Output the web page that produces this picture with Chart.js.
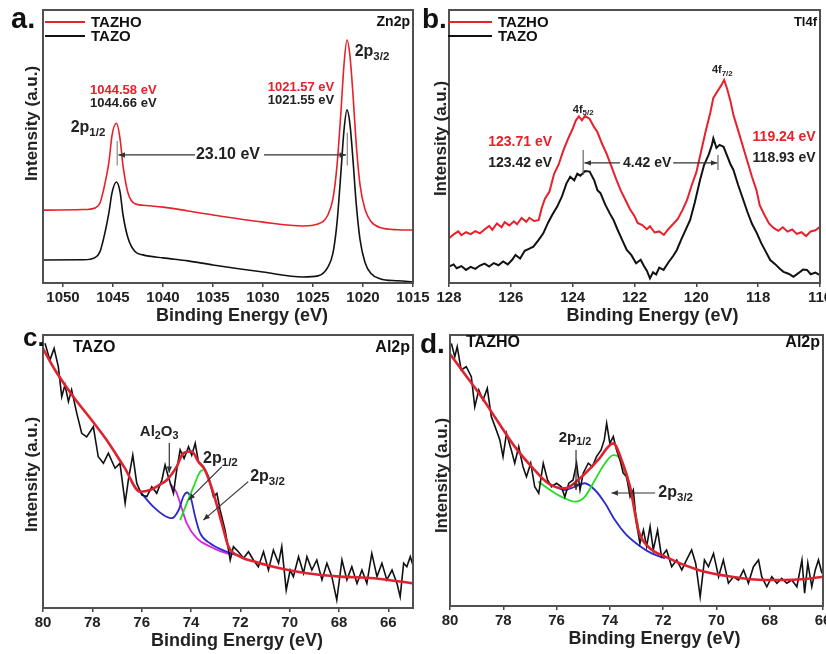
<!DOCTYPE html>
<html>
<head>
<meta charset="utf-8">
<script src="https://cdn.jsdelivr.net/npm/chart.js@4.4.1/dist/chart.umd.min.js"></script>
<style>
  html, body { margin: 0; padding: 0; background: #fff; overflow: hidden; width: 826px; height: 654px; }
  canvas { position: absolute; }
</style>
</head>
<body>
<canvas id="pa" width="440" height="330" style="left:0px;top:0px"></canvas>
<canvas id="pb" width="440" height="330" style="left:400px;top:0px"></canvas>
<canvas id="pc" width="440" height="334" style="left:0px;top:320px"></canvas>
<canvas id="pd" width="440" height="334" style="left:400px;top:320px"></canvas>
<script>
// ---- panel a: Zn2p ----
var aTicks = [1050, 1045, 1040, 1035, 1030, 1025, 1020, 1015];
var aEnergy = [
  1052, 1048, 1046.8, 1046.3, 1045.8, 1045.4, 1045.1, 1044.66, 1044.3, 1044.0,
  1043.5, 1042.8, 1042, 1040, 1037.5, 1035, 1030, 1026, 1024.5, 1023.5,
  1023, 1022.6, 1022.2, 1021.9, 1021.6, 1021.3, 1021.0, 1020.7, 1020.3, 1019.8,
  1019.2, 1018.3, 1016.5, 1015];
var aTazho = [
  26.7, 26.9, 27.5, 29.3, 36.5, 44.5, 54, 58.5, 53, 43,
  33, 29, 28.5, 27.8, 26.4, 24.9, 22.3, 20.9, 21.6, 25,
  31, 43, 63, 80, 89, 83, 69, 52, 36, 27,
  22.5, 20.3, 19.5, 19.4];
var aTazo = [
  8.4, 8.5, 9.3, 11.5, 18.5, 26, 33, 37, 33.5, 25,
  16.5, 11.5, 10.3, 9.2, 8.1, 6.6, 4.0, 2.2, 2.6, 5.9,
  11, 22, 41, 56, 63.4, 58, 45, 30, 16, 7.5,
  3.5, 1.6, 0.8, 0.4];

// ---- panel b: Tl4f ----
var bTicks = [128, 126, 124, 122, 120, 118, 116];
var bTazhoE = [
  128.0, 127.85, 127.7, 127.6, 127.45, 127.3, 127.15, 127.0, 126.85, 126.7,
  126.6, 126.45, 126.3, 126.2, 126.05, 125.9, 125.8, 125.65, 125.5, 125.4,
  125.25, 125.1, 125.0, 124.9, 124.75, 124.6, 124.45, 124.3, 124.15, 124.0,
  123.9, 123.8, 123.7, 123.6, 123.45, 123.3, 123.2, 123.05, 122.9, 122.75,
  122.6, 122.45, 122.3, 122.15, 122.0, 121.9, 121.75, 121.6, 121.5, 121.35,
  121.2, 121.05, 120.9, 120.75, 120.6, 120.45, 120.3, 120.15, 120.0, 119.85,
  119.7, 119.55, 119.45, 119.3, 119.2, 119.1, 119.0, 118.9, 118.8, 118.65,
  118.5, 118.35, 118.2, 118.05, 117.95, 117.8, 117.65, 117.5, 117.35, 117.2,
  117.05, 116.9, 116.75, 116.6, 116.45, 116.3, 116.15, 116.0];
var bTazho = [
  16.4, 17.8, 18.9, 17.5, 18.6, 17.9, 19.0, 18.2, 19.6, 20.9,
  19.5, 21.8, 20.4, 22.3, 21.1, 22.6, 21.5, 23.8, 22.4, 23.9,
  22.7, 23.0, 27.5, 30.8, 33.5, 40.0, 43.5, 48.6, 52.8, 56.5,
  59.5, 61.0, 59.6, 61.2, 60.1, 57.0, 55.3, 51.0, 47.3, 42.8,
  38.2, 34.0, 30.6, 27.1, 24.5, 22.0, 21.2, 19.7, 20.8, 18.5,
  18.9, 17.6, 19.8, 21.6, 23.5, 26.7, 30.4, 35.8, 40.5, 48.0,
  55.5, 62.3, 67.8, 70.5, 72.3, 74.4, 71.0, 66.8, 61.5, 56.0,
  50.3, 44.6, 38.9, 33.8, 28.5, 25.0, 21.8, 20.2, 19.1, 20.4,
  18.8, 19.6, 18.0, 18.6, 17.2, 18.9, 19.3, 20.6];
var bTazoE = [
  128.0, 127.85, 127.75, 127.6, 127.45, 127.3, 127.15, 127.0, 126.85, 126.7,
  126.55, 126.4, 126.25, 126.1, 125.95, 125.85, 125.7, 125.55, 125.4, 125.27,
  125.1, 124.95, 124.8, 124.65, 124.5, 124.35, 124.2, 124.08, 123.95, 123.85,
  123.75, 123.6, 123.45, 123.3, 123.2, 123.1, 122.95, 122.8, 122.68, 122.55,
  122.4, 122.25, 122.1, 121.95, 121.8, 121.7, 121.6, 121.5, 121.4, 121.3,
  121.2, 121.06, 120.9, 120.75, 120.63, 120.5, 120.35, 120.2, 120.05, 119.88,
  119.75, 119.6, 119.5, 119.45, 119.35, 119.25, 119.12, 119.0, 118.9, 118.8,
  118.65, 118.48, 118.35, 118.2, 118.04, 117.9, 117.75, 117.61, 117.45, 117.3,
  117.18, 117.0, 116.86, 116.7, 116.55, 116.42, 116.3, 116.15, 116.0];
var bTazo = [
  6.0, 6.8, 5.4, 6.2, 4.8, 5.9, 5.2, 6.4, 7.1, 6.0,
  7.3, 6.5, 7.9, 6.8, 8.6, 10.3, 9.0, 11.8, 12.6, 13.3,
  15.8, 18.2, 22.0, 25.2, 28.0, 31.6, 36.5, 38.9, 37.6, 40.0,
  39.3, 41.0, 40.8, 37.5, 34.0, 32.9, 28.8, 25.5, 23.1, 19.6,
  15.8, 12.1, 10.2, 7.2, 8.5, 6.3, 4.5, 1.7, 3.9, 3.1,
  5.6, 4.8, 7.6, 9.9, 12.1, 15.6, 19.4, 23.1, 29.5, 37.7,
  43.2, 47.0, 50.4, 53.0, 49.5, 50.6, 49.9, 46.5, 43.6, 41.4,
  36.0, 30.4, 26.1, 21.7, 18.2, 14.6, 11.4, 8.4, 6.9, 5.2,
  4.1, 3.3, 2.3, 3.6, 4.9, 4.8, 3.2, 3.8, 2.9];

// ---- panel c: Al2p, TAZO ----
var cTicks = [80, 78, 76, 74, 72, 70, 68, 66];
var cRawE = [
  79.92, 79.72, 79.55, 79.38, 79.24, 79.11, 78.97, 78.84, 78.63, 78.43,
  78.23, 77.96, 77.76, 77.55, 77.35, 77.08, 76.88, 76.67, 76.54, 76.36,
  76.2, 75.99, 75.79, 75.59, 75.39, 75.18, 75.05, 74.92, 74.71, 74.58,
  74.44, 74.28, 74.1, 73.97, 73.83, 73.7, 73.5, 73.29, 73.09, 72.95,
  72.82, 72.62, 72.41, 72.28, 72.08, 71.87, 71.67, 71.47, 71.27, 71.06,
  70.86, 70.66, 70.45, 70.32, 70.14, 69.98, 69.85, 69.64, 69.44, 69.3,
  69.1, 68.9, 68.69, 68.49, 68.29, 68.09, 67.88, 67.68, 67.48, 67.27,
  67.07, 66.87, 66.67, 66.46, 66.26, 66.06, 65.85, 65.65, 65.52, 65.38,
  65.25, 65.11, 64.98];
var cRaw = [
  97, 90.8, 95.1, 88.4, 77.4, 81.7, 75.6, 79.9, 71.3, 64,
  62.7, 66.4, 55.4, 53, 56.7, 51.2, 53, 38.4, 46.9, 56,
  45.7, 41.4, 40.8, 44.4, 42, 46.9, 52.4, 48.1, 42, 50.5,
  57.9, 54.8, 59.1, 56, 60.3, 53.6, 51.8, 48.1, 40.8, 42,
  35.9, 28.6, 17.6, 22.5, 20.6, 18.2, 20.6, 17.6, 15.1, 20.6,
  13.9, 21.2, 16.4, 22.5, 6.6, 13.9, 11.5, 18.8, 12.7, 18.8,
  13.9, 17.6, 10.3, 16.4, 11.5, 2.9, 17.6, 10.3, 15.1, 9,
  13.9, 9, 20, 11.5, 16.4, 10.3, 13.9, 9, 4.1, 16.4,
  15.1, 18.8, 15];
var cFitE = [80, 79.5, 78.77, 78, 77.42, 76.7, 76.06, 75.66, 75.3, 74.98,
  74.58, 74.31, 73.97, 73.7, 73.43, 73.09, 72.75, 72.48, 72.01, 71.3,
  70.66, 69.3, 67.95, 66.6, 65];
var cFit = [95, 87, 77.4, 68.5, 61.5, 51.5, 42.6, 43.2, 45, 46.9,
  51.8, 56.7, 57.3, 53.6, 50.5, 42, 31, 22.5, 18.8, 16.7,
  15.1, 12.7, 11.5, 10.9, 9];
var cBlueE = [76.06, 75.53, 75.12, 74.78, 74.5, 74.3, 74.15, 74.0, 73.83, 73.63, 73.23, 72.55, 72.2];
var cBlue = [42.6, 37.1, 34.1, 32.9, 35.9, 41, 42.3, 40, 33.4, 27.4, 23.7, 20.6, 19.6];
var cPinkE = [74.85, 74.6, 74.44, 74.17, 73.76, 73.23, 72.55, 72.2];
var cPink = [45.5, 42.5, 38.4, 31, 25.5, 22.5, 20, 19.6];
var cGreenE = [74.44, 74.17, 73.9, 73.63, 73.5];
var cGreen = [32.2, 38.4, 44.4, 49.9, 50.5];

// ---- panel d: Al2p, TAZHO ----
var dTicks = [80, 78, 76, 74, 72, 70, 68, 66];
var dRawE = [
  79.95, 79.82, 79.73, 79.58, 79.39, 79.2, 79.07, 78.92, 78.76, 78.6,
  78.45, 78.26, 78.13, 78.01, 77.88, 77.7, 77.57, 77.42, 77.26, 77.13,
  76.97, 76.82, 76.67, 76.5, 76.34, 76.19, 76, 75.82, 75.69, 75.54,
  75.38, 75.25, 75.12, 75, 74.81, 74.66, 74.5, 74.33, 74.21, 74.12,
  74, 73.87, 73.75, 73.62, 73.5, 73.37, 73.24, 73.12, 73, 72.87,
  72.74, 72.62, 72.49, 72.37, 72.21, 72.06, 71.87, 71.68, 71.49, 71.3,
  71.12, 70.93, 70.78, 70.61, 70.45, 70.3, 70.11, 69.92, 69.74, 69.55,
  69.36, 69.17, 68.98, 68.8, 68.61, 68.42, 68.3, 68.11, 67.92, 67.73,
  67.55, 67.36, 67.17, 66.98, 66.79, 66.69, 66.57, 66.42, 66.29, 66.17,
  66.04];
var dRaw = [
  96.9, 92, 95.7, 87.1, 88.3, 84.6, 73.5, 79.7, 76, 80.3,
  69.9, 64.9, 61.3, 55.1, 63.7, 57.6, 52.7, 58.8, 51.4, 47.7,
  52.7, 44, 41.6, 52.7, 46.5, 44, 45.3, 44, 40.3, 45.3,
  46.5, 52.7, 42.8, 49, 52.7, 51.4, 55.1, 57.6, 61.3, 67.4,
  60, 62.5, 57.6, 53.9, 49, 47.7, 40.3, 42.8, 30.5, 23.1,
  28, 21.9, 29.3, 20.7, 28, 18.2, 20.7, 14.5, 17, 13.3,
  17, 20.7, 15.8, 3.4, 17, 14.5, 19.4, 10.8, 17, 8.4,
  10.8, 9.6, 13.3, 8.4, 14.5, 17, 10.8, 7.1, 10.8, 8.4,
  10.2, 8.4, 9.6, 7.1, 17, 4.7, 15.8, 7.1, 13.3, 17,
  12.1];
var dFitE = [80, 79.4, 78.82, 78.2, 77.57, 76.9, 76.32, 75.69, 75.06, 74.44,
  73.87, 73.56, 73.24, 72.93, 72.56, 71.93, 70.68, 69.42, 68.17, 66.92, 66];
var dFit = [93, 85, 77.2, 68, 58.8, 51, 45.3, 43.4, 47.7, 53.9,
  60, 53.9, 44, 28, 21.9, 18.2, 13.3, 10.8, 9.6, 9.8, 10.8];
var dGreenE = [76.69, 76.06, 75.69, 75.31, 74.94, 74.56, 74.18, 73.87, 73.68, 73.43, 73.18, 72.93];
var dGreen = [45.9, 41.6, 39.7, 38.5, 40.3, 46.5, 52.7, 55.7, 55.1, 49, 40.3, 29.3];
var dBlueE = [76.32, 75.69, 75.31, 74.94, 74.56, 74.18, 73.81, 73.43, 72.93, 72.43, 71.93];
var dBlue = [45.3, 42.8, 44, 45.3, 42.8, 37.9, 31.7, 26.8, 22.5, 19.4, 17.6];

var FONT = '"Liberation Sans", Arial, Helvetica, sans-serif';
var RED = "#e8202a";
var DARK = "#111111";

function pts(xs, ys) {
  return xs.map(function (x, i) { return { x: x, y: ys[i] }; });
}

function sub(main, s) { return [[main, 0], [s, 1]]; }

// text / arrows placed in data units of each panel
var decor = {
  pa: {
    tag: "a.", tagX: 11, tagY: 28, tagSize: 29, ydx: 11, ydy: -23, xdx: 14,
    name: "Zn2p", nameSize: 14, nameDy: 12,
    legend: [["TAZHO", RED], ["TAZO", DARK]], legX: 2, legLen: 40,
    notes: [
      { t: [["1044.58 eV", 0]], x: 1043.97, y: 70.7, size: 13, color: RED },
      { t: [["1044.66 eV", 0]], x: 1043.97, y: 65.9, size: 13 },
      { t: sub("2p", "1/2"), x: 1047.5, y: 56.8, size: 16 },
      { t: [["1021.57 eV", 0]], x: 1026.2, y: 71.8, size: 13, color: RED },
      { t: [["1021.55 eV", 0]], x: 1026.2, y: 67, size: 13 },
      { t: sub("2p", "3/2"), x: 1019.1, y: 84.6, size: 16 },
      { t: [["23.10 eV", 0]], x: 1033.5, y: 46.9, size: 16 },
      { line: [1036.8, 46.9, 1044.45, 46.9], head: true },
      { line: [1029.9, 46.9, 1021.7, 46.9], head: true },
      { line: [1044.58, 52, 1044.58, 43], color: "#888" },
      { line: [1021.57, 55, 1021.57, 43], color: "#888" }
    ]
  },
  pb: {
    tag: "b.", tagX: 22, tagY: 28, tagSize: 28, ydx: 8, ydy: -8, xdx: 18,
    name: "Tl4f", nameSize: 13, nameDy: 12,
    legend: [["TAZHO", RED], ["TAZO", DARK]], legX: -1, legLen: 44,
    notes: [
      { t: sub("4f", "5/2"), x: 123.66, y: 63.4, size: 11 },
      { t: sub("4f", "7/2"), x: 119.16, y: 78, size: 11 },
      { t: [["123.71 eV", 0]], x: 125.7, y: 51.6, size: 14, color: RED },
      { t: [["123.42 eV", 0]], x: 125.7, y: 44, size: 14 },
      { t: [["119.24 eV", 0]], x: 117.16, y: 53.5, size: 14, color: RED },
      { t: [["118.93 eV", 0]], x: 117.16, y: 45.8, size: 14 },
      { t: [["4.42 eV", 0]], x: 121.59, y: 44, size: 14 },
      { line: [122.47, 44, 123.62, 44], head: true },
      { line: [120.75, 44, 119.32, 44], head: true },
      { line: [123.66, 48.7, 123.66, 39.6], color: "#666" },
      { line: [119.3, 46.9, 119.3, 41.4], color: "#666" }
    ]
  },
  pc: {
    tag: "c.", tagX: 23, tagY: 26, tagSize: 26, ydx: 11, ydy: 3, xdx: 9,
    name: "Al2p", nameSize: 16, nameDy: 13, sample: "TAZO", sampleX: 30,
    notes: [
      { t: [["Al", 0], ["2", 1], ["O", 0], ["3", 1]], x: 75.29, y: 64.5, size: 15 },
      { line: [74.88, 60.4, 74.88, 49.5], head: true },
      { t: sub("2p", "1/2"), x: 73.51, y: 54.9, size: 16, align: "left" },
      { line: [72.75, 51.8, 74.1, 39.6], head: true },
      { t: sub("2p", "3/2"), x: 71.6, y: 48, size: 16, align: "left" },
      { line: [71.68, 46.3, 73.5, 32.2], head: true }
    ]
  },
  pd: {
    tag: "d.", tagX: 20, tagY: 33, tagSize: 28, ydx: 8, ydy: 5, xdx: 18,
    name: "Al2p", nameSize: 16, nameDy: 8, sample: "TAZHO", sampleX: 16,
    notes: [
      { t: sub("2p", "1/2"), x: 75.31, y: 62, size: 15 },
      { line: [75.27, 57.6, 75.27, 42.8], head: true },
      { t: sub("2p", "3/2"), x: 72.18, y: 41.7, size: 16, align: "left" },
      { line: [72.3, 41.7, 73.94, 41.7], head: true }
    ]
  }
};

function drawRich(ctx, parts, x, y, size, align, color) {
  var w = 0;
  parts.forEach(function (p) {
    ctx.font = "bold " + (p[1] ? size * 0.72 : size) + "px " + FONT;
    w += ctx.measureText(p[0]).width;
  });
  var cx = align === "left" ? x : align === "right" ? x - w : x - w / 2;
  ctx.textAlign = "left";
  ctx.textBaseline = "middle";
  ctx.fillStyle = color;
  parts.forEach(function (p) {
    ctx.font = "bold " + (p[1] ? size * 0.72 : size) + "px " + FONT;
    ctx.fillText(p[0], cx, p[1] ? y + size * 0.3 : y);
    cx += ctx.measureText(p[0]).width;
  });
}

var decorPlugin = {
  id: "decor",
  afterDraw: function (chart) {
    var d = decor[chart.canvas.id];
    var ctx = chart.ctx, a = chart.chartArea;
    var xs = chart.scales.x, ys = chart.scales.y;
    ctx.save();

    // frame
    ctx.strokeStyle = "#505050";
    ctx.lineWidth = 2;
    ctx.strokeRect(a.left, a.top, a.right - a.left, a.bottom - a.top);

    // panel letter
    ctx.fillStyle = "#111";
    ctx.font = "bold " + d.tagSize + "px " + FONT;
    ctx.textAlign = "left";
    ctx.textBaseline = "alphabetic";
    ctx.fillText(d.tag, d.tagX, d.tagY);

    // axis titles
    ctx.fillStyle = "#222";
    ctx.font = "bold 18px " + FONT;
    ctx.textAlign = "center";
    ctx.fillText("Binding Energy (eV)", (a.left + a.right) / 2 + d.xdx, a.bottom + 38);
    ctx.save();
    ctx.translate(a.left - d.ydx, (a.top + a.bottom) / 2 + d.ydy);
    ctx.rotate(-Math.PI / 2);
    ctx.font = "bold 17px " + FONT;
    ctx.textBaseline = "middle";
    ctx.fillText("Intensity (a.u.)", 0, 0);
    ctx.restore();

    // corner labels
    ctx.fillStyle = "#111";
    ctx.font = "bold " + d.nameSize + "px " + FONT;
    ctx.textAlign = "right";
    ctx.textBaseline = "middle";
    ctx.fillText(d.name, a.right - 3, a.top + d.nameDy);
    if (d.sample) {
      ctx.font = "bold 16px " + FONT;
      ctx.textAlign = "left";
      ctx.fillText(d.sample, a.left + d.sampleX, a.top + d.nameDy);
    }

    // legend
    if (d.legend) {
      d.legend.forEach(function (item, i) {
        var y = a.top + 12 + i * 14;
        ctx.strokeStyle = item[1];
        ctx.lineWidth = 2;
        ctx.beginPath();
        ctx.moveTo(a.left + d.legX, y);
        ctx.lineTo(a.left + d.legX + d.legLen, y);
        ctx.stroke();
        ctx.fillStyle = "#111";
        ctx.font = "bold 15px " + FONT;
        ctx.textAlign = "left";
        ctx.fillText(item[0], a.left + d.legX + d.legLen + 6, y + 1);
      });
    }

    // notes and arrows
    d.notes.forEach(function (n) {
      if (n.line) {
        var x1 = xs.getPixelForValue(n.line[0]), y1 = ys.getPixelForValue(n.line[1]);
        var x2 = xs.getPixelForValue(n.line[2]), y2 = ys.getPixelForValue(n.line[3]);
        ctx.strokeStyle = n.color || "#333";
        ctx.fillStyle = n.color || "#333";
        ctx.lineWidth = 1.2;
        ctx.beginPath();
        ctx.moveTo(x1, y1);
        ctx.lineTo(x2, y2);
        ctx.stroke();
        if (n.head) {
          var ang = Math.atan2(y2 - y1, x2 - x1);
          ctx.beginPath();
          ctx.moveTo(x2, y2);
          ctx.lineTo(x2 - 7 * Math.cos(ang - 0.4), y2 - 7 * Math.sin(ang - 0.4));
          ctx.lineTo(x2 - 7 * Math.cos(ang + 0.4), y2 - 7 * Math.sin(ang + 0.4));
          ctx.closePath();
          ctx.fill();
        }
      } else {
        drawRich(ctx, n.t, xs.getPixelForValue(n.x), ys.getPixelForValue(n.y),
          n.size, n.align || "center", n.color || "#222");
      }
    });
    ctx.restore();
  }
};

function line(data, color, width, smooth) {
  return {
    data: data,
    borderColor: color,
    borderWidth: width,
    pointRadius: 0,
    fill: false,
    cubicInterpolationMode: smooth ? "monotone" : "default",
    tension: smooth ? 0.4 : 0
  };
}

function makeChart(id, o) {
  return new Chart(document.getElementById(id), {
    type: "line",
    data: { datasets: o.datasets },
    options: {
      responsive: false,
      animation: false,
      layout: { padding: o.pad },
      plugins: { legend: { display: false }, tooltip: { enabled: false } },
      scales: {
        x: {
          type: "linear",
          reverse: true,
          min: o.min,
          max: o.max,
          afterBuildTicks: function (s) {
            s.ticks = o.ticks.map(function (v) { return { value: v }; });
          },
          afterFit: function (s) { s.height = o.xh; },
          ticks: {
            autoSkip: false,
            maxRotation: 0,
            padding: 2,
            color: "#222",
            font: { family: FONT, size: 15, weight: "bold" },
            callback: function (v) { return String(v); }
          },
          grid: { drawOnChartArea: false, tickLength: 4, color: "#444", lineWidth: 1.5 },
          border: { display: false }
        },
        y: { display: false, min: 0, max: 100 }
      }
    },
    plugins: [decorPlugin]
  });
}

makeChart("pa", {
  min: 1015, max: 1052, ticks: aTicks, xh: 47,
  pad: { left: 43, top: 10, right: 27, bottom: 0 },
  datasets: [
    line(pts(aEnergy, aTazho), RED, 1.6, true),
    line(pts(aEnergy, aTazo), DARK, 1.6, true)
  ]
});

makeChart("pb", {
  min: 116, max: 128, ticks: bTicks, xh: 47,
  pad: { left: 49, top: 10, right: 20, bottom: 0 },
  datasets: [
    line(pts(bTazhoE, bTazho), RED, 2, false),
    line(pts(bTazoE, bTazo), DARK, 2, false)
  ]
});

makeChart("pc", {
  min: 65, max: 80, ticks: cTicks, xh: 46,
  pad: { left: 43, top: 15, right: 27, bottom: 0 },
  datasets: [
    line(pts(cFitE, cFit), "#de2230", 2.6, true),
    line(pts(cRawE, cRaw), DARK, 1.6, false),
    line(pts(cGreenE, cGreen), "#22dd22", 1.8, true),
    line(pts(cBlueE, cBlue), "#2a2ad0", 1.8, true),
    line(pts(cPinkE, cPink), "#dd22dd", 1.8, true)
  ]
});

makeChart("pd", {
  min: 66, max: 80, ticks: dTicks, xh: 48,
  pad: { left: 50, top: 15, right: 17, bottom: 0 },
  datasets: [
    line(pts(dFitE, dFit), "#de2230", 2.6, true),
    line(pts(dRawE, dRaw), DARK, 1.6, false),
    line(pts(dGreenE, dGreen), "#22dd22", 1.8, true),
    line(pts(dBlueE, dBlue), "#2a2ad0", 1.8, true)
  ]
});
</script>
</body>
</html>
